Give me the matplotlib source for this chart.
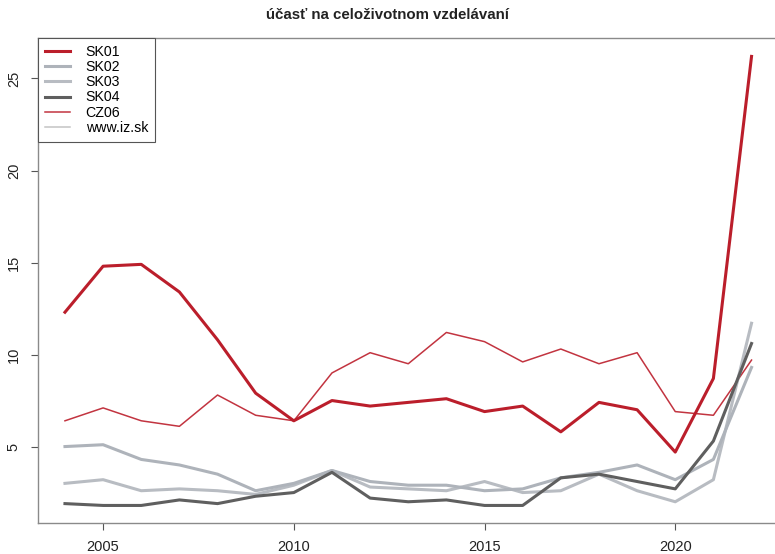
import matplotlib
matplotlib.use("Agg")
import matplotlib.pyplot as plt
from matplotlib.lines import Line2D

plt.rcParams.update({
    "font.family": ["Liberation Sans", "DejaVu Sans"],
    "font.size": 10,
})

# ── data ──────────────────────────────────────────────────────────────────────
years = list(range(2004, 2023))
sk01 = [12.3, 14.8, 14.9, 13.4, 10.8, 7.9, 6.4, 7.5, 7.2, 7.4, 7.6, 6.9, 7.2, 5.8, 7.4, 7.0, 4.7, 8.7, 26.2]
sk02 = [5.0, 5.1, 4.3, 4.0, 3.5, 2.6, 3.0, 3.7, 3.1, 2.9, 2.9, 2.6, 2.7, 3.3, 3.6, 4.0, 3.2, 4.3, 9.3]
sk03 = [3.0, 3.2, 2.6, 2.7, 2.6, 2.4, 2.9, 3.7, 2.8, 2.7, 2.6, 3.1, 2.5, 2.6, 3.5, 2.6, 2.0, 3.2, 11.7]
sk04 = [1.9, 1.8, 1.8, 2.1, 1.9, 2.3, 2.5, 3.6, 2.2, 2.0, 2.1, 1.8, 1.8, 3.3, 3.5, 3.1, 2.7, 5.3, 10.6]
cz06 = [6.4, 7.1, 6.4, 6.1, 7.8, 6.7, 6.4, 9.0, 10.1, 9.5, 11.2, 10.7, 9.6, 10.3, 9.5, 10.1, 6.9, 6.7, 9.7]

x_ticks = [2005, 2010, 2015, 2020]
y_ticks = [5, 10, 15, 20, 25]
title = "účasť na celoživotnom vzdelávaní"

RED = "#bb1e2b"
RED_THIN = "#c23440"
GREY2 = "#aeb3ba"
GREY3 = "#b8bcc2"
DARK = "#5f5f5f"
SOURCE = "#c4c4c4"

# ── figure ────────────────────────────────────────────────────────────────────
W, H = 775, 554
fig = plt.figure(figsize=(W / 100, H / 100), dpi=100)
left, right, top, bottom = 37.5, 779, 38, 523.3
ax = fig.add_axes([left / W, (H - bottom) / H, (right - left) / W, (bottom - top) / H])

ax.plot(years, cz06, color=RED_THIN, lw=1.1, zorder=3)
ax.plot(years, sk03, color=GREY3, lw=2.2, zorder=3)
ax.plot(years, sk02, color=GREY2, lw=2.2, zorder=3)
ax.plot(years, sk04, color=DARK, lw=2.2, zorder=4)
ax.plot(years, sk01, color=RED, lw=2.2, zorder=5)

ax.set_xlim(2003.28, 2022.72)
ax.set_ylim(0.83, 27.2)
ax.set_xticks(x_ticks)
ax.set_yticks(y_ticks)
ax.set_yticklabels([str(v) for v in y_ticks], rotation=90, va="center")
ax.tick_params(direction="out", length=5, width=0.8, color="#555555",
               labelsize=10.5, labelcolor="#222222")
ax.tick_params(axis="x", pad=7)
ax.tick_params(axis="y", pad=7)
for s in ax.spines.values():
    s.set_color("#8a8a8a")
    s.set_linewidth(1.0)

fig.text(0.5, 1 - 15 / H, title, ha="center", va="center",
         fontsize=10.8, fontweight="bold", color="#222222")

handles = [
    Line2D([], [], color=RED, lw=2.2),
    Line2D([], [], color=GREY2, lw=2.2),
    Line2D([], [], color=GREY3, lw=2.2),
    Line2D([], [], color=DARK, lw=2.2),
    Line2D([], [], color=RED_THIN, lw=1.1),
    Line2D([], [], color=SOURCE, lw=1.1),
]
labels = ["SK01", "SK02", "SK03", "SK04", "CZ06", "www.iz.sk"]
leg = ax.legend(handles, labels, loc="upper left", borderaxespad=0,
                fancybox=False, framealpha=1, edgecolor="#555555",
                fontsize=10.2, handlelength=1.8, handletextpad=1.1,
                labelspacing=0.08, borderpad=0.5)
leg.get_frame().set_linewidth(0.8)
leg.set_zorder(10)

fig.savefig("out.png", dpi=100)
